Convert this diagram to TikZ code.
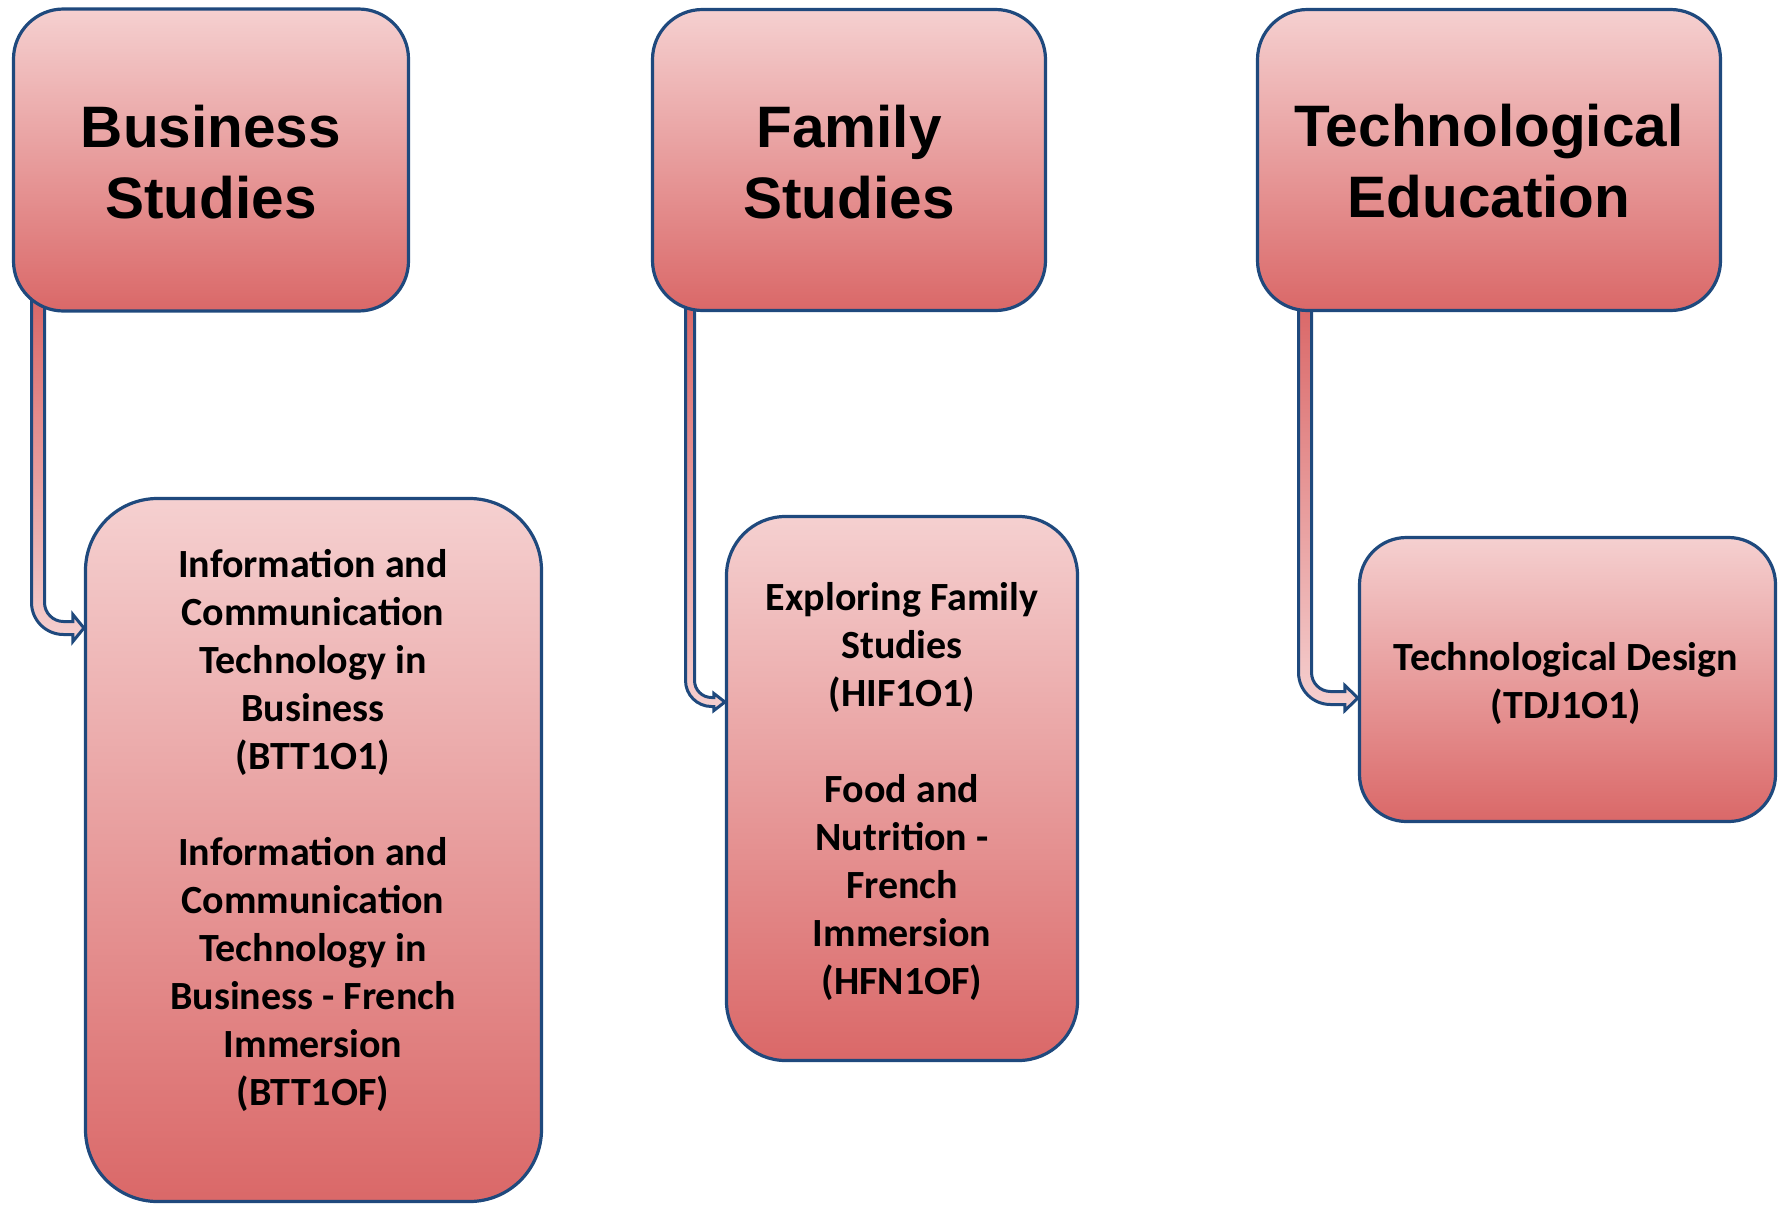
\documentclass[tikz,border=0pt]{standalone}
\usepackage{fontspec}
\setmainfont{Carlito}
\newfontfamily\arialf{Liberation Sans}
\usetikzlibrary{calc}
\pgfdeclarelayer{bg}
\pgfsetlayers{bg,main}
\definecolor{bordblue}{RGB}{31,73,125}
\definecolor{pinktop}{RGB}{245,208,208}
\definecolor{redbot}{RGB}{218,104,104}
\tikzset{
 box/.style={draw=bordblue, line width=3.2pt, top color=pinktop, bottom color=redbot, inner sep=0pt},
 titletext/.style={font=\arialf\bfseries\fontsize{58.5}{71}\selectfont, align=center, anchor=base, inner sep=0pt},
 bodytext/.style={font=\bfseries\fontsize{40}{48}\selectfont, align=center, anchor=base, inner sep=0pt},
 arrowfill/.style={draw=bordblue, line width=3pt, top color=redbot, bottom color=pinktop, line join=miter},
}
% #1 start (top centre of shaft), #2 tip, #3 half width, #4 outer radius, #5 head length, #6 head half height
\newcommand\bentarrow[6]{%
\path[arrowfill] let \p1=(#1), \p2=(#2) in
 ({\x1-#3pt},{\y1}) -- ({\x1-#3pt},{\y2-#3pt+#4pt})
 .. controls ({\x1-#3pt},{\y2-#3pt+0.4477*#4pt}) and ({\x1-#3pt+0.4477*#4pt},{\y2-#3pt}) .. ({\x1-#3pt+#4pt},{\y2-#3pt})
 -- ({\x2-#5pt},{\y2-#3pt}) -- ({\x2-#5pt},{\y2-#6pt}) -- (\x2,\y2) -- ({\x2-#5pt},{\y2+#6pt}) -- ({\x2-#5pt},{\y2+#3pt})
 -- ({\x1+#4pt-#3pt},{\y2+#3pt})
 .. controls ({\x1+#3pt+0.4477*(#4-2*#3)*1pt},{\y2+#3pt}) and ({\x1+#3pt},{\y2+#3pt+0.4477*(#4-2*#3)*1pt}) .. ({\x1+#3pt},{\y2+#4pt-#3pt})
 -- ({\x1+#3pt},{\y1}) -- cycle;}
\begin{document}
\begin{tikzpicture}[x=1pt,y=-1pt]
\useasboundingbox (0,0) rectangle (1785,1205);
% header boxes
\node[box, minimum width=395pt, minimum height=302pt, rounded corners=50pt] (b1) at (211,160) {};
\node[box, minimum width=393pt, minimum height=301pt, rounded corners=50pt] (b2) at (849,160) {};
\node[box, minimum width=463pt, minimum height=301pt, rounded corners=50pt] (b3) at (1489,160) {};
% course boxes
\node[box, minimum width=456pt, minimum height=703pt, rounded corners=72pt] (c1) at (313.5,850) {};
\node[box, minimum width=351pt, minimum height=544pt, rounded corners=59pt] (c2) at (902,788.5) {};
\node[box, minimum width=416pt, minimum height=284pt, rounded corners=47pt] (c3) at (1567.5,679.5) {};
% texts (anchored at the baseline of the last line)
\node[titletext] (t1) at (211,218) {Business\\Studies};
\node[titletext] (t2) at (849,218) {Family\\Studies};
\node[titletext] (t3) at (1489,217) {Technological\\Education};
\node[bodytext] (x1) at (313,1105) {Information and\\Communication\\Technology in\\Business\\(BTT1O1)\\[48pt]Information and\\Communication\\Technology in\\Business - French\\Immersion\\(BTT1OF)};
\node[bodytext] (x2) at (902,994) {Exploring Family\\Studies\\(HIF1O1)\\[48pt]Food and\\Nutrition -\\French\\Immersion\\(HFN1OF)};
\node[bodytext] (x3) at (1566,718) {Technological Design\\(TDJ1O1)};
% connectors
\coordinate (s1) at (38,300);
\coordinate (s2) at (690,305);
\coordinate (s3) at (1305,305);
\coordinate (e1) at (c1.west |- 0,628);
\coordinate (e2) at (c2.west |- 0,702);
\coordinate (e3) at (c3.west |- 0,698);
\begin{pgfonlayer}{bg}
\bentarrow{s1}{e1}{6.5}{32}{11}{13.5}
\bentarrow{s2}{e2}{4.5}{26}{11}{8.5}
\bentarrow{s3}{e3}{6.5}{32}{13}{12.5}
\end{pgfonlayer}
\end{tikzpicture}
\end{document}
